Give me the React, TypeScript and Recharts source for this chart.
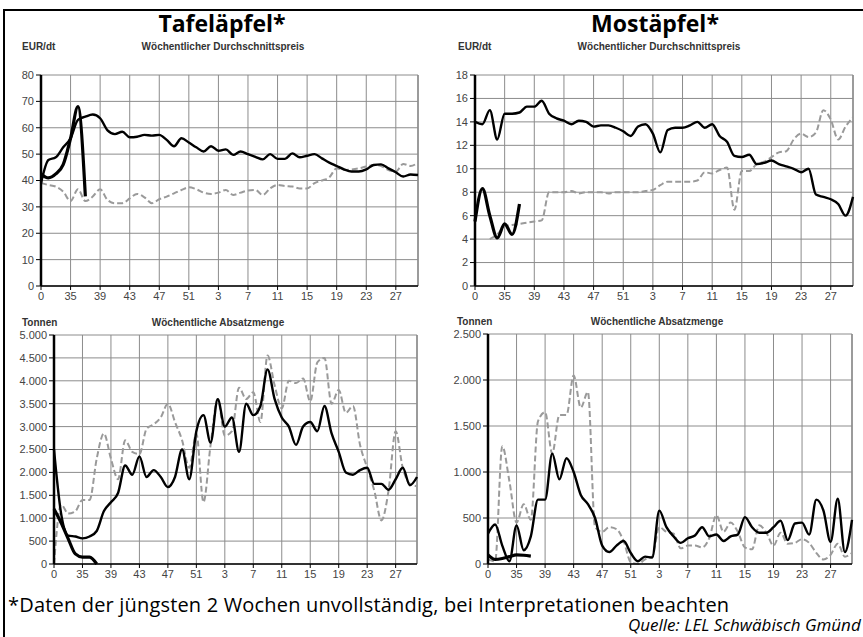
import React from 'react';
import { LineChart, Line, XAxis, YAxis, CartesianGrid, ReferenceLine } from 'recharts';

// Kalenderwochen (erster Punkt ist in der Vorlage mit "0" beschriftet)
const weeks = [
  '0', '32', '33', '34', '35', '36', '37', '38', '39', '40', '41', '42', '43',
  '44', '45', '46', '47', '48', '49', '50', '51', '52', '1', '2', '3', '4',
  '5', '6', '7', '8', '9', '10', '11', '12', '13', '14', '15', '16', '17',
  '18', '19', '20', '21', '22', '23', '24', '25', '26', '27', '28', '29', '30',
];
const weekTicks = ['0', '35', '39', '43', '47', '51', '3', '7', '11', '15', '19', '23', '27'];

// Tafeläpfel – Durchschnittspreis EUR/dt
const tafelPreisAktuell = [42.5, 41, 42.5, 46, 56, 68, 34];
const tafelPreisVorjahr = [
  39, 47.8, 48.8, 52.6, 56, 63, 64.2, 65, 63.6, 59, 57.6, 58.5, 56.4,
  56.6, 57.3, 57, 57.3, 55.4, 53, 56, 54.4, 52.6, 51, 53, 51.3, 51.8,
  49.7, 51, 50, 49, 48, 50, 48.2, 48.2, 50.3, 48.8, 49.4, 50, 48.4,
  46.8, 45.5, 44.2, 43.4, 43.4, 44.2, 45.9, 46.1, 44.6, 43.1, 41.5, 42.3, 42.1,
];
const tafelPreisVor2 = [
  39, 38.3, 37.7, 35.8, 32.2, 36.7, 32.2, 33.9, 36.7, 32.6, 31.4, 31.4, 33.2,
  34.9, 33.6, 31.4, 32.9, 33.9, 35.1, 36.4, 37.4, 36.7, 35.4, 34.9, 35.4, 36.4,
  34.5, 35.4, 36.2, 36.4, 34.5, 37, 38.3, 37.9, 37.7, 37, 37, 39, 40,
  41.2, 44.6, 44, 44.2, 44.6, 45.3, 45.9, 45.5, 44, 43.4, 46.3, 45.5, 46.8,
];

// Mostäpfel – Durchschnittspreis EUR/dt
const mostPreisAktuell = [5.5, 8.3, 6.0, 4.1, 5.3, 4.4, 7.0];
const mostPreisVorjahr = [
  14.0, 13.8, 15.0, 12.5, 14.7, 14.7, 14.8, 15.3, 15.3, 15.8, 14.7, 14.3, 14.1,
  13.8, 14.1, 14.0, 13.6, 13.7, 13.7, 13.5, 13.2, 12.8, 13.6, 13.8, 13.0, 11.4,
  13.3, 13.5, 13.5, 13.7, 14.0, 13.5, 13.8, 12.8, 12.3, 11.1, 11.0, 11.2, 10.4,
  10.5, 10.7, 10.4, 10.2, 10.0, 9.7, 10.0, 7.8, 7.6, 7.4, 7.0, 6.0, 7.6,
];
const mostPreisVor2 = [
  null, null, 4.0, 4.4, 5.1, 5.2, 5.3, 5.4, 5.5, 5.6, 8.0, 8.0, 8.0,
  8.1, 7.9, 8.0, 8.0, 8.0, 7.9, 8.0, 8.0, 8.0, 8.0, 8.1, 8.2, 8.6,
  8.9, 8.9, 8.9, 8.9, 9.0, 9.7, 9.6, 9.9, 10.1, 6.5, 9.8, 9.8, 10.4,
  10.6, 11.0, 11.4, 11.5, 12.5, 13.0, 12.7, 13.1, 15.0, 14.2, 12.5, 13.6, 14.4,
];

// Tafeläpfel – Absatzmenge Tonnen
const tafelMengeAktuell = [1200, 900, 550, 220, 150, 150, 0];
const tafelMengeVorjahr = [
  2500, 1100, 620, 600, 560, 600, 720, 1150, 1350, 1550, 2150, 1950, 2350,
  1900, 2050, 1900, 1680, 1900, 2500, 1850, 2900, 3250, 2650, 3600, 3000, 3200,
  2450, 3500, 3250, 3450, 4250, 3600, 3200, 3000, 2600, 3000, 3100, 2900, 3450,
  2850, 2450, 2000, 1950, 2050, 2100, 1750, 1750, 1620, 1850, 2100, 1720, 1900,
];
const tafelMengeVor2 = [
  0, 1300, 1100, 1150, 1400, 1400, 2300, 2850, 2300, 1850, 2700, 2450, 2400,
  2950, 3050, 3200, 3500, 3100, 2700, 2100, 2850, 1350, 2600, 3600, 2800, 2900,
  3850, 3600, 3750, 3100, 4550, 3900, 3400, 4000, 3950, 4050, 3550, 4400, 4500,
  3500, 3800, 3300, 3450, 2600, 2100, 1600, 950, 1600, 2900, 2100, 1750, 1700,
];

// Mostäpfel – Absatzmenge Tonnen
const mostMengeAktuell = [100, 50, 60, 80, 100, 95, 85];
const mostMengeVorjahr = [
  330, 430, 200, 30, 420, 150, 300, 700, 700, 1200, 920, 1150, 1000,
  750, 650, 500, 200, 130, 200, 250, 120, 30, 80, 70, 580, 400,
  300, 230, 280, 310, 400, 300, 320, 250, 300, 320, 510, 400, 340,
  340, 400, 470, 260, 440, 450, 320, 700, 580, 240, 710, 130, 480,
];
const mostMengeVor2 = [
  50, 30, 1280, 900, 450, 650, 480, 1550, 1650, 1200, 1620, 1620, 2050,
  1700, 1870, 400, 350, 400, 380, 250, 20, 0, 50, 80, 400, 350,
  330, 170, 200, 200, 180, 280, 530, 350, 450, 350, 180, 160, 420,
  340, 200, 340, 220, 230, 270, 230, 120, 50, 100, 220, 80, 120,
];

const preisTicksTafel = [0, 10, 20, 30, 40, 50, 60, 70, 80];
const preisTicksMost = [0, 2, 4, 6, 8, 10, 12, 14, 16, 18];
const mengeTicksTafel = [0, 500, 1000, 1500, 2000, 2500, 3000, 3500, 4000, 4500, 5000];
const mengeTicksMost = [0, 500, 1000, 1500, 2000, 2500];

const build = (a: (number | null)[], v: (number | null)[], v2: (number | null)[]) =>
  weeks.map((w, i) => ({ week: w, aktuell: a[i] ?? null, vorjahr: v[i] ?? null, vor2: v2[i] ?? null }));

const fmtDe = (n: number) => String(n).replace(/\B(?=(\d{3})+(?!\d))/g, '.');

const axisFont = { fill: '#444', fontSize: 11, fontFamily: 'Liberation Sans, Arial, sans-serif' };
const gridColor = '#8c8c8c';

interface PanelProps {
  data: ReturnType<typeof build>;
  ticks: number[];
  left: number;
  top: number;
  width: number;
  height: number;
  margin: { top: number; right: number; bottom: number; left: number };
  yWidth: number;
  thousands?: boolean;
}

const Panel: React.FC<PanelProps> = ({ data, ticks, left, top, width, height, margin, yWidth, thousands }) => (
  <div style={{ position: 'absolute', left, top }}>
    <LineChart width={width} height={height} data={data} margin={margin}>
      <CartesianGrid stroke={gridColor} strokeWidth={1} />
      <XAxis
        dataKey="week"
        scale="point"
        padding={{ left: 0, right: 0 }}
        ticks={weekTicks}
        interval={0}
        height={20}
        tick={axisFont}
        tickSize={4}
        tickLine={{ stroke: '#000' }}
        axisLine={{ stroke: '#000', strokeWidth: 1.5 }}
      />
      <YAxis
        domain={[ticks[0], ticks[ticks.length - 1]]}
        ticks={ticks}
        interval={0}
        width={yWidth}
        tick={axisFont}
        tickSize={5}
        tickLine={{ stroke: '#000' }}
        axisLine={{ stroke: '#000', strokeWidth: 2.5 }}
        tickFormatter={(v: number) => (thousands ? fmtDe(v) : String(v))}
      />
      <ReferenceLine x="30" stroke={gridColor} strokeWidth={1.5} />
      <Line type="monotone" dataKey="vor2" stroke="#9a9a9a" strokeWidth={2} strokeDasharray="6 3" dot={false} isAnimationActive={false} />
      <Line type="monotone" dataKey="vorjahr" stroke="#000" strokeWidth={2.4} dot={false} isAnimationActive={false} />
      <Line type="monotone" dataKey="aktuell" stroke="#000" strokeWidth={3.2} dot={false} isAnimationActive={false} />
    </LineChart>
  </div>
);

const labelFont: React.CSSProperties = {
  position: 'absolute',
  fontFamily: 'Liberation Sans, Arial, sans-serif',
  fontWeight: 'bold',
  fontSize: 10,
  lineHeight: '12px',
  color: '#333',
  whiteSpace: 'nowrap',
};
const titleFont: React.CSSProperties = {
  position: 'absolute',
  fontFamily: '"Open Sans", sans-serif',
  fontWeight: 'bold',
  fontSize: 23,
  color: '#000',
  whiteSpace: 'nowrap',
  transform: 'translateX(-50%)',
  lineHeight: '26px',
};

const App: React.FC = () => (
  <div style={{ position: 'absolute', left: 0, top: 0, width: 863, height: 637, background: '#fff', overflow: 'hidden' }}>
    <div style={{ position: 'absolute', left: 3, top: 9, width: 900, height: 700, borderTop: '2px solid #000', borderLeft: '2px solid #000' }} />

    <div style={{ ...titleFont, left: 222, top: 10 }}>Tafeläpfel*</div>
    <div style={{ ...titleFont, left: 655, top: 10 }}>Mostäpfel*</div>

    <div style={{ ...labelFont, left: 22, top: 41 }}>EUR/dt</div>
    <div style={{ ...labelFont, left: 223, top: 41, transform: 'translateX(-50%)' }}>Wöchentlicher Durchschnittspreis</div>
    <div style={{ ...labelFont, left: 458, top: 41 }}>EUR/dt</div>
    <div style={{ ...labelFont, left: 659, top: 41, transform: 'translateX(-50%)' }}>Wöchentlicher Durchschnittspreis</div>

    <div style={{ ...labelFont, left: 22, top: 317 }}>Tonnen</div>
    <div style={{ ...labelFont, left: 218, top: 317, transform: 'translateX(-50%)' }}>Wöchentliche Absatzmenge</div>
    <div style={{ ...labelFont, left: 457, top: 316 }}>Tonnen</div>
    <div style={{ ...labelFont, left: 657, top: 316, transform: 'translateX(-50%)' }}>Wöchentliche Absatzmenge</div>

    <Panel
      data={build(tafelPreisAktuell, tafelPreisVorjahr, tafelPreisVor2)}
      ticks={preisTicksTafel}
      left={0} top={60} width={430} height={250}
      margin={{ top: 15, right: 12, bottom: 4, left: 11 }}
      yWidth={30}
    />
    <Panel
      data={build(mostPreisAktuell, mostPreisVorjahr, mostPreisVor2)}
      ticks={preisTicksMost}
      left={430} top={60} width={433} height={250}
      margin={{ top: 15, right: 10, bottom: 4, left: 15 }}
      yWidth={30}
    />
    <Panel
      data={build(tafelMengeAktuell, tafelMengeVorjahr, tafelMengeVor2)}
      ticks={mengeTicksTafel}
      left={0} top={320} width={430} height={270}
      margin={{ top: 15, right: 13, bottom: 6, left: 16 }}
      yWidth={38}
      thousands
    />
    <Panel
      data={build(mostMengeAktuell, mostMengeVorjahr, mostMengeVor2)}
      ticks={mengeTicksMost}
      left={430} top={320} width={433} height={270}
      margin={{ top: 14, right: 11, bottom: 6, left: 20 }}
      yWidth={38}
      thousands
    />

    <div style={{ position: 'absolute', left: 8, top: 592, fontFamily: '"Open Sans", sans-serif', fontSize: 20, letterSpacing: 0.18, color: '#000', whiteSpace: 'nowrap', lineHeight: '26px' }}>
      *Daten der jüngsten 2 Wochen unvollständig, bei Interpretationen beachten
    </div>
    <div style={{ position: 'absolute', left: 628, top: 614, fontFamily: '"Open Sans", sans-serif', fontStyle: 'italic', fontSize: 17, color: '#000', whiteSpace: 'nowrap', lineHeight: '22px' }}>
      Quelle: LEL Schwäbisch Gmünd
    </div>
  </div>
);

export default App;
